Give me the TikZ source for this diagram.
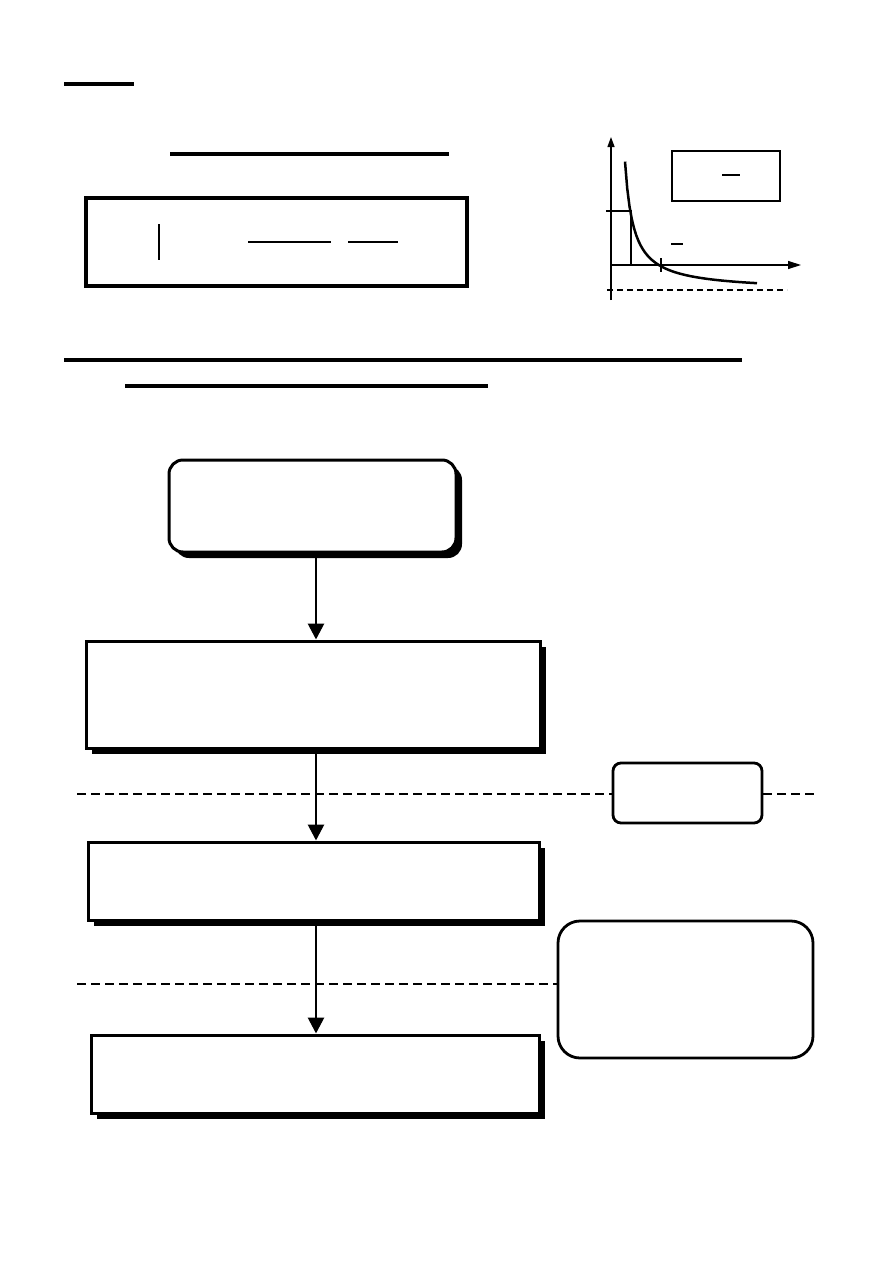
\documentclass[tikz,border=0pt]{standalone}
\usepackage{tikz}
\usetikzlibrary{arrows.meta,shadows}

\begin{document}
\begin{tikzpicture}[x=1pt, y=-1pt,
    rule/.style={line width=3.2pt},
    stepbox/.style={draw, line width=3pt, fill=white, inner sep=0pt,
        general shadow={fill=black, shadow xshift=6pt, shadow yshift=-6pt}},
    notebox/.style={draw, line width=2.8pt, fill=white, inner sep=0pt},
    flow/.style={line width=2.8pt, -{Triangle[length=16pt,width=16pt]}},
    sepline/.style={line width=2.6pt, dash pattern=on 9pt off 5pt},
    thinaxis/.style={line width=1.3pt}]
    \useasboundingbox (0,0) rectangle (893,1263);

    % Heading rules
    \draw[rule] (64,84) -- (134,84);
    \draw[rule] (170,154) -- (449,154);

    % Formula box
    \node[draw, line width=3.4pt, inner sep=0pt, minimum width=381pt, minimum height=88pt] (formula) at (276.5,242) {};
    \draw[line width=1.6pt] (159,224) -- (159,260);
    \draw[line width=1.5pt] (248,242) -- (331,242);
    \draw[line width=1.5pt] (348,242) -- (398,242);

    % Small graph
    \draw[thinaxis, -{Triangle[length=10pt,width=7pt]}] (611,300) -- (611,137);
    \draw[thinaxis, -{Triangle[length=13pt,width=8pt]}] (611,265) -- (801,265);
    \draw[thinaxis, dash pattern=on 6pt off 4pt] (607,290) -- (787,290);
    \draw[thinaxis] (606,211) -| (631,265);
    \draw[thinaxis] (661,258) -- (661,272);
    \draw[line width=2.5pt, domain=625:757, samples=60] plot (\x, {291-1100/(\x-616.5)});
    \node[draw, line width=2.5pt, inner sep=0pt, minimum width=108pt, minimum height=50pt] (legend) at (726,176) {};
    \draw[thinaxis] (722,175) -- (740,175);
    \draw[thinaxis] (671,244) -- (683,244);

    % Section rules
    \draw[rule] (64,360) -- (742,360);
    \draw[rule] (125,386) -- (488,386);

    % Separators
    \draw[sepline] (77,794) -- (818,794);
    \draw[sepline] (77,984) -- (818,984);

    % Flow boxes
    \coordinate (spine) at (316,0);
    \node[stepbox, rounded corners=14pt, minimum width=287pt, minimum height=92pt] (start) at (312.5,506) {};
    \node[stepbox, minimum width=454pt, minimum height=107pt] (stageA) at (313,694.5) {};
    \node[stepbox, minimum width=451pt, minimum height=78pt] (stageB) at (313.5,881) {};
    \node[stepbox, minimum width=448pt, minimum height=78pt] (stageC) at (315,1074) {};

    % Side notes
    \node[notebox, rounded corners=8pt, minimum width=149pt, minimum height=60pt] (noteA) at (687.5,793) {};
    \node[notebox, rounded corners=22pt, minimum width=255pt, minimum height=137pt] (noteB) at (685.5,989.5) {};

    % Arrows
    \draw[flow] (start.south -| spine) -- (stageA.north -| spine);
    \draw[flow] (stageA.south -| spine) -- (stageB.north -| spine);
    \draw[flow] (stageB.south -| spine) -- (stageC.north -| spine);
\end{tikzpicture}
\end{document}
